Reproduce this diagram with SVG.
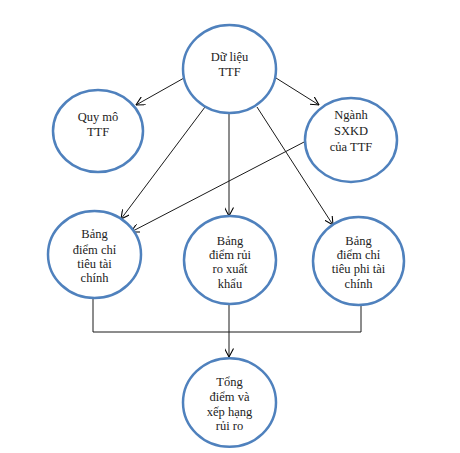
<svg xmlns="http://www.w3.org/2000/svg" width="460" height="453" viewBox="0 0 460 453">
<defs>
<marker id="arr" viewBox="0 0 10 10" refX="9.5" refY="5" markerWidth="9" markerHeight="9" markerUnits="userSpaceOnUse" orient="auto">
<path d="M0,0 L9.5,5 L0,10" fill="none" stroke="#000" stroke-width="1.2"/>
</marker>
</defs>
<style>
.node ellipse{fill:#fff;stroke:#4f81bd;stroke-width:2.5}
.node text{font-size:12.5px;fill:#222;text-anchor:middle}
.conn line,.conn polyline{stroke:#1a1a1a;stroke-width:1;fill:none}
</style>
<rect width="460" height="453" fill="#fff"/>
<g class="conn">
<line x1="184" y1="78" x2="136" y2="105" marker-end="url(#arr)"/>
<line x1="276" y1="78" x2="319" y2="105" marker-end="url(#arr)"/>
<line x1="205" y1="107" x2="121" y2="219" marker-end="url(#arr)"/>
<line x1="229" y1="113" x2="229" y2="216" marker-end="url(#arr)"/>
<line x1="257" y1="107" x2="333" y2="225" marker-end="url(#arr)"/>
<line x1="306" y1="141" x2="131" y2="232" marker-end="url(#arr)"/>
<polyline points="93,298 93,332 361,332 361,305" stroke="#444"/>
<line x1="229" y1="304" x2="229" y2="357" marker-end="url(#arr)"/>
</g>
<g font-family="Liberation Serif, Times New Roman, serif">
<g id="du-lieu" class="node">
<ellipse cx="229.5" cy="69" rx="46.5" ry="44"/>
<text x="229.5" y="61">Dữ liệu</text>
<text x="229.5" y="76">TTF</text>
</g>
<g id="quy-mo" class="node">
<ellipse cx="98" cy="131" rx="45" ry="41"/>
<text x="98" y="121">Quy mô</text>
<text x="98" y="136">TTF</text>
</g>
<g id="nganh" class="node">
<ellipse cx="351" cy="140" rx="46" ry="42"/>
<text x="351" y="119">Ngành</text>
<text x="351" y="135">SXKD</text>
<text x="351" y="151">của TTF</text>
</g>
<g id="tai-chinh" class="node">
<ellipse cx="94.5" cy="254.5" rx="46.5" ry="43.5"/>
<text x="94.5" y="238">Bảng</text>
<text x="94.5" y="254">điểm chỉ</text>
<text x="94.5" y="268">tiêu tài</text>
<text x="94.5" y="282">chính</text>
</g>
<g id="rui-ro" class="node">
<ellipse cx="230" cy="260" rx="46" ry="44"/>
<text x="230" y="245">Bảng</text>
<text x="230" y="259">điểm rủi</text>
<text x="230" y="273">ro xuất</text>
<text x="230" y="288">khẩu</text>
</g>
<g id="phi-tai-chinh" class="node">
<ellipse cx="358.5" cy="261" rx="45.5" ry="44"/>
<text x="358.5" y="245">Bảng</text>
<text x="358.5" y="259">điểm chỉ</text>
<text x="358.5" y="273">tiêu phi tài</text>
<text x="358.5" y="288">chính</text>
</g>
<g id="tong-diem" class="node">
<ellipse cx="229.5" cy="402.5" rx="46.5" ry="44.3"/>
<text x="229.5" y="386">Tổng</text>
<text x="229.5" y="401">điểm và</text>
<text x="229.5" y="416">xếp hạng</text>
<text x="229.5" y="430">rủi ro</text>
</g>
</g>
</svg>
